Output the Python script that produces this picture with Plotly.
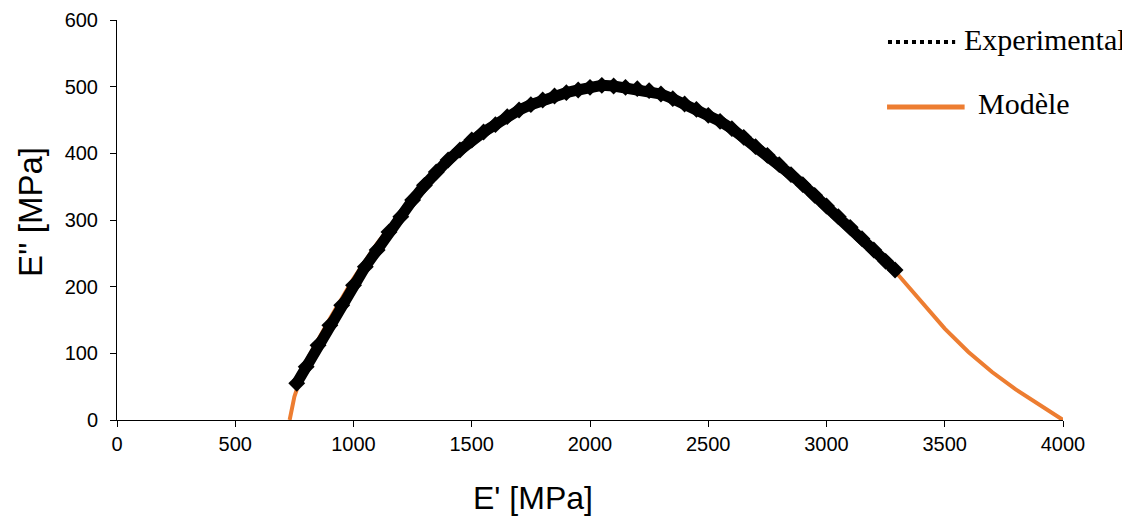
import plotly.graph_objects as go

exp_e1 = [760, 800, 850, 900, 950, 1000, 1050, 1100, 1150, 1200, 1250, 1300, 1350, 1400,
          1450, 1500, 1550, 1600, 1650, 1700, 1750, 1800, 1850, 1900, 1950, 2000, 2050,
          2100, 2150, 2200, 2250, 2300, 2350, 2400, 2450, 2500, 2550, 2600, 2650, 2700,
          2750, 2800, 2850, 2900, 2950, 3000, 3050, 3100, 3150, 3200, 3250, 3290]
exp_e2 = [55, 80, 112, 142, 172, 202, 230, 255, 282, 305, 330, 352, 372, 390,
          405, 420, 432, 443, 455, 465, 473, 480, 486, 491, 495, 499, 502,
          501, 499, 497, 494, 489, 482, 474, 466, 457, 448, 437, 424, 410,
          397, 383, 368, 353, 337, 321, 305, 289, 272, 255, 238, 225]

# Model curve (E', E'')
mod_e1 = [730, 750, 800, 900, 1000, 1100, 1200, 1300, 1400, 1500, 1600, 1700, 1800, 1900,
          2000, 2100, 2200, 2300, 2400, 2500, 2600, 2700, 2800, 2900, 3000, 3100, 3200,
          3300, 3400, 3500, 3600, 3700, 3800, 3900, 4000]
mod_e2 = [0, 35, 88, 152, 212, 265, 310, 352, 389, 420, 444, 464, 480, 490,
          496, 497, 494, 487, 475, 459, 439, 412, 386, 356, 323, 290, 255,
          219, 177, 137, 102, 72, 46, 23, 0]

x_ticks = [0, 500, 1000, 1500, 2000, 2500, 3000, 3500, 4000]
y_ticks = [0, 100, 200, 300, 400, 500, 600]

legend_labels = ["Experimental", "Modèle"]
x_title = "E' [MPa]"
y_title = "E'' [MPa]"

BLACK = "#000000"
ORANGE = "#ED7D31"
SANS = "Liberation Sans, Arial, sans-serif"
SERIF = "Liberation Serif, Times New Roman, serif"

fig = go.Figure()
fig.add_trace(go.Scatter(
    x=mod_e1, y=mod_e2, mode="lines", name=legend_labels[1],
    line=dict(color=ORANGE, width=4), showlegend=False, hoverinfo="x+y"))
fig.add_trace(go.Scatter(
    x=exp_e1, y=exp_e2, mode="lines+markers", name=legend_labels[0],
    line=dict(color=BLACK, width=11),
    marker=dict(symbol="diamond", size=13, color=BLACK),
    showlegend=False, hoverinfo="x+y"))

axis_font = dict(family=SANS, size=20, color="#000000")

# The page body adds an 8px offset, so the figure is sized/margined to compensate
fig.update_layout(
    width=1122, height=509,
    margin=dict(l=109, r=67, t=12, b=97),
    paper_bgcolor="white", plot_bgcolor="white",
    font=axis_font,
    xaxis=dict(range=[0, 4000], tickvals=x_ticks, showgrid=False, zeroline=False,
               showline=True, linecolor="#000000", linewidth=1,
               ticks="outside", ticklen=6, tickcolor="#000000",
               tickfont=axis_font, automargin=False),
    yaxis=dict(range=[0, 600], tickvals=y_ticks, showgrid=False, zeroline=False,
               showline=True, linecolor="#000000", linewidth=1,
               ticks="outside", ticklen=6, tickcolor="#000000",
               tickfont=axis_font, automargin=False, ticklabelstandoff=8),
    showlegend=False,
)

# Axis titles (placed as in the reference, off-centre)
fig.add_annotation(xref="paper", yref="paper", x=0.44, y=-0.195, text=x_title,
                   showarrow=False, xanchor="center", yanchor="middle",
                   font=dict(family=SANS, size=32, color="#000000"))
fig.add_annotation(xref="paper", yref="paper", x=-0.092, y=0.52, text=y_title,
                   showarrow=False, xanchor="center", yanchor="middle", textangle=-90,
                   font=dict(family=SANS, size=33, color="#000000"))

# Legend drawn as shapes + text
fig.add_shape(type="line", xref="paper", yref="paper", x0=0.815, x1=0.886, y0=0.945, y1=0.945,
              line=dict(color=BLACK, width=4, dash="dot"))
fig.add_shape(type="line", xref="paper", yref="paper", x0=0.814, x1=0.896, y0=0.7825, y1=0.7825,
              line=dict(color=ORANGE, width=5))
legend_font = dict(family=SERIF, size=30, color="#000000")
fig.add_annotation(xref="paper", yref="paper", x=0.893, y=0.952, text=legend_labels[0],
                   showarrow=False, xanchor="left", yanchor="middle", font=legend_font)
fig.add_annotation(xref="paper", yref="paper", x=0.908, y=0.79, text=legend_labels[1],
                   showarrow=False, xanchor="left", yanchor="middle", font=legend_font)

fig.write_html("out.html")
